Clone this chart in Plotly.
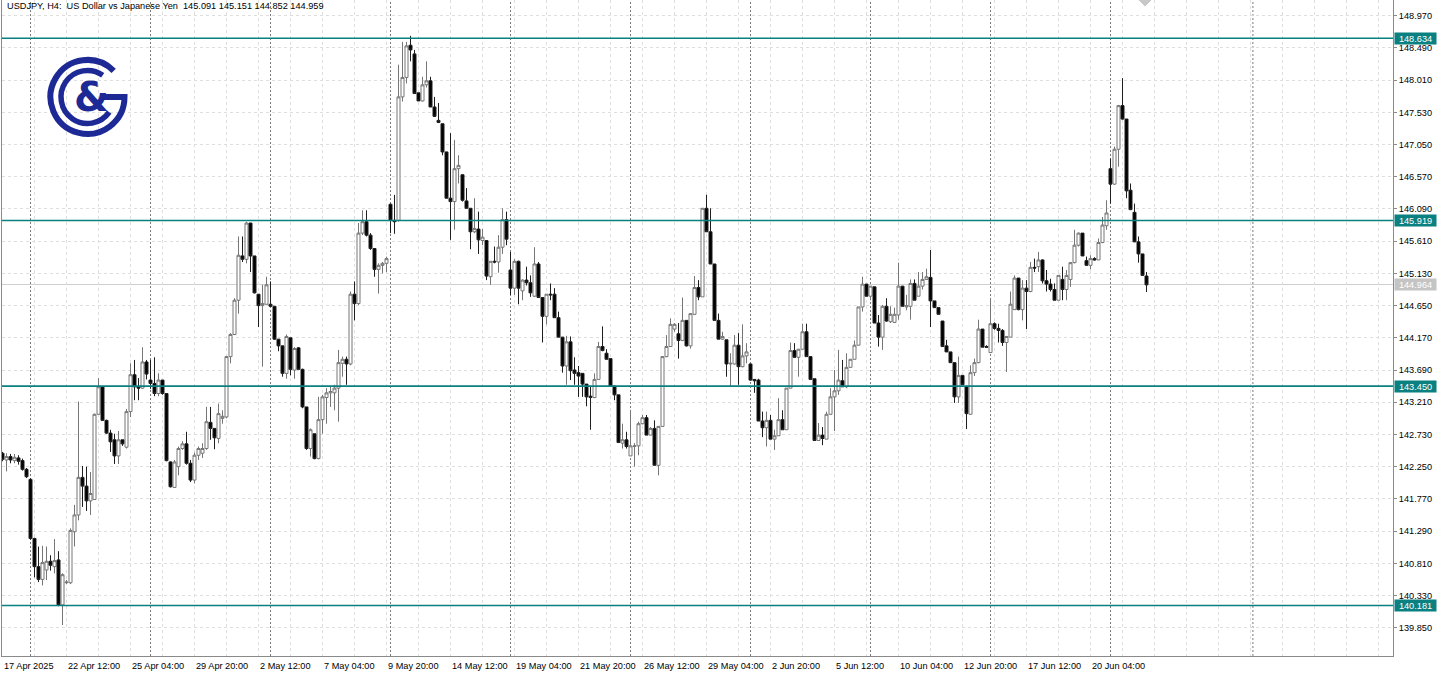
import base64
import plotly.graph_objects as go

# ---------------- data (USDJPY H4) ----------------
opens = [142.45,142.35,142.40,142.34,142.38,142.34,142.21,142.06,141.18,140.76,
140.57,140.71,140.84,140.76,140.86,140.19,140.52,140.52,141.28,141.53,
142.09,141.96,141.74,141.76,143.03,143.44,142.94,142.75,142.65,142.41,
142.65,142.54,143.07,143.62,143.44,143.42,143.81,143.54,143.49,143.34,
143.54,143.34,142.32,141.94,142.25,142.52,142.59,142.30,142.05,142.42,
142.45,142.52,142.91,142.82,142.67,142.97,142.99,143.89,144.22,144.73,
145.39,145.34,145.88,145.39,144.82,144.65,144.67,144.67,144.64,144.15,
144.05,143.64,144.17,143.69,144.02,143.70,143.14,142.52,142.74,142.37,
142.95,143.28,143.35,143.35,143.42,143.79,143.85,143.78,144.82,144.68,
145.73,145.90,145.70,145.50,145.19,145.25,145.28,146.16,145.92,145.92,
147.76,148.05,148.53,148.40,147.82,147.70,147.94,148.00,147.61,147.41,
147.36,146.94,146.25,146.20,146.69,146.60,146.21,146.10,145.75,145.79,
145.62,145.62,145.08,145.31,145.30,145.52,145.93,145.18,144.91,145.31,
144.87,145.03,144.99,144.79,145.27,144.77,144.49,144.82,144.82,144.47,
144.18,143.75,144.11,143.69,143.65,143.64,143.48,143.30,143.28,143.55,
144.04,143.94,143.86,143.45,143.32,142.60,142.65,142.41,142.55,142.56,
142.89,142.98,142.72,142.82,142.27,142.85,143.89,144.04,144.30,144.23,
144.13,144.43,144.05,144.52,144.92,144.78,146.10,145.75,145.27,144.43,
144.15,144.14,143.78,143.78,144.06,143.74,143.90,143.78,143.55,143.54,
142.93,142.83,142.94,142.66,142.71,142.95,142.80,143.42,143.98,143.88,
144.00,144.26,143.89,143.56,142.64,142.72,142.66,143.03,143.29,143.38,
143.53,143.44,143.73,143.85,144.06,144.63,144.97,144.79,144.93,144.39,
144.18,144.64,144.41,144.40,144.51,144.94,144.63,144.64,144.98,144.79,
144.94,145.04,145.07,144.72,144.62,144.42,144.05,143.96,143.80,143.29,
143.61,143.44,143.03,143.65,143.80,144.30,144.04,143.95,144.38,144.31,
144.28,144.10,144.18,144.59,145.06,144.59,144.91,144.86,145.22,145.23,
145.33,145.02,144.97,144.89,144.73,145.04,144.89,145.04,145.29,145.55,
145.73,145.32,145.25,145.35,145.33,145.59,145.84,146.69,146.46,146.98,
147.63,147.43,146.37,146.04,145.60,145.42,145.091]

highs = [142.47,142.45,142.44,142.44,142.42,142.37,142.23,142.08,141.19,141.06,
141.07,141.06,140.93,141.17,140.99,140.66,140.56,141.33,141.68,143.22,
142.26,142.25,142.17,143.04,143.57,143.45,142.95,142.80,142.74,142.78,
142.65,143.11,143.79,143.84,143.57,144.03,143.84,143.84,143.88,143.64,
143.54,143.34,142.33,142.35,142.55,142.63,142.77,142.35,142.46,142.55,
142.60,143.14,143.14,142.82,143.19,143.09,143.90,144.24,144.76,145.68,
145.68,145.90,145.88,145.39,144.82,144.96,145.08,145.01,144.64,144.15,
144.05,144.22,144.17,144.03,144.03,143.71,143.14,142.82,142.74,143.29,
143.32,143.42,143.44,143.47,143.99,143.89,143.89,144.86,145.01,145.88,
146.07,146.07,145.73,145.50,145.28,145.30,145.38,146.17,146.30,148.24,
148.58,148.58,148.67,148.46,147.82,148.06,148.29,148.06,147.76,147.67,
147.36,146.94,147.22,147.12,146.89,146.60,146.40,146.10,146.25,146.05,
145.79,145.62,145.31,145.53,145.70,146.10,146.05,145.45,145.34,145.32,
145.04,145.23,145.10,145.52,145.30,144.77,144.82,144.98,144.91,144.56,
144.18,144.20,144.19,143.88,143.75,143.64,143.48,143.44,143.64,144.11,
144.34,144.00,143.86,143.46,143.32,142.89,142.77,143.09,142.60,142.92,
143.02,143.02,142.84,142.94,142.85,143.89,144.21,144.46,144.39,144.39,
144.77,144.43,144.53,145.09,145.03,146.10,146.30,146.10,145.27,144.53,
144.26,144.14,143.94,144.21,144.24,144.37,144.09,143.78,143.55,143.56,
143.07,143.07,143.02,142.80,143.27,143.09,143.42,144.10,144.09,144.00,
144.38,144.38,143.89,143.56,142.90,142.84,143.07,143.42,143.69,143.99,
143.84,143.94,143.85,144.13,144.63,145.08,144.97,144.94,144.93,144.51,
144.66,144.76,144.64,144.62,145.29,144.94,144.81,145.04,145.04,145.15,
145.15,145.20,145.48,144.72,144.62,144.42,144.14,143.96,143.80,143.89,
143.61,143.46,143.76,143.86,144.44,144.30,144.06,144.76,144.40,144.38,
144.30,144.19,144.86,145.10,145.06,145.03,145.03,145.30,145.35,145.45,
145.34,145.18,145.05,144.98,145.10,145.23,145.18,145.29,145.78,145.74,
145.73,145.38,145.40,145.37,145.65,145.97,146.22,146.84,147.02,147.64,
148.04,147.43,146.47,146.17,145.68,145.42,145.151]

lows = [142.33,142.18,142.30,142.30,142.28,142.19,142.08,141.16,140.60,140.53,
140.48,140.56,140.70,140.66,140.17,139.89,140.50,140.50,141.06,141.45,
141.65,141.59,141.53,141.76,143.03,142.93,142.74,142.47,142.29,142.29,
142.56,142.52,142.99,143.24,143.24,143.41,143.55,143.41,143.30,143.30,
143.32,142.33,141.94,141.94,142.12,142.50,142.28,142.02,142.00,142.35,
142.38,142.50,142.65,142.51,142.60,142.89,142.97,143.79,144.21,144.53,
145.30,145.28,145.15,144.83,144.33,143.74,144.67,144.63,144.14,143.97,
143.59,143.56,143.61,143.56,143.69,143.12,142.50,142.40,142.36,142.36,
142.74,142.89,143.14,143.09,142.92,143.59,143.47,143.76,144.43,144.66,
145.70,145.68,145.48,145.08,144.83,145.13,145.15,145.73,145.72,145.90,
147.69,147.96,148.29,147.81,147.70,147.69,147.90,147.61,147.46,147.37,
146.89,146.25,145.63,145.78,146.47,146.20,146.10,145.49,145.73,145.42,
145.55,145.03,144.96,145.28,145.14,145.42,145.55,144.81,144.81,144.67,
144.73,144.95,144.78,144.78,144.77,144.10,144.37,144.73,144.47,144.18,
143.65,143.47,143.54,143.47,143.29,143.29,143.15,142.80,143.27,143.55,
143.97,143.85,143.45,143.24,142.61,142.52,142.52,142.41,142.25,142.42,
142.88,142.72,142.72,142.27,142.12,142.85,143.88,144.04,144.26,143.86,
144.12,144.04,144.01,144.51,144.73,144.78,145.75,145.27,144.43,144.15,
144.14,143.59,143.44,143.77,143.47,143.73,143.79,143.53,143.35,142.93,
142.69,142.55,142.66,142.50,142.71,142.80,142.80,143.42,143.87,143.59,
144.00,143.89,143.55,142.64,142.64,142.57,142.66,143.03,142.78,143.32,
143.44,143.42,143.73,143.85,144.06,144.56,144.79,144.73,144.39,144.04,
143.99,144.41,144.39,144.39,144.44,144.64,144.58,144.44,144.73,144.79,
144.89,145.04,144.33,144.62,144.52,144.04,143.96,143.80,143.20,143.20,
143.47,142.81,143.03,143.60,143.79,144.03,144.03,143.95,144.29,144.10,
144.05,143.66,144.18,144.59,144.58,144.43,144.30,144.85,145.15,145.15,
144.98,144.86,144.86,144.73,144.73,144.73,144.73,144.93,145.28,145.53,
145.39,145.25,145.19,145.32,145.33,145.58,145.78,146.17,146.45,146.72,
147.42,146.25,146.08,145.60,145.29,145.10,144.852]

closes = [142.36,142.40,142.35,142.39,142.33,142.21,142.10,141.18,140.76,140.57,
140.82,140.84,140.78,140.85,140.19,140.64,140.53,141.30,141.53,142.09,
141.96,141.74,141.85,143.03,143.44,142.94,142.75,142.62,142.41,142.65,
142.59,143.07,143.62,143.44,143.42,143.81,143.63,143.49,143.34,143.54,
143.34,142.34,141.95,142.32,142.52,142.59,142.30,142.05,142.42,142.52,
142.52,142.92,142.82,142.68,143.04,143.00,143.89,144.22,144.73,145.40,
145.34,145.88,145.39,144.84,144.65,144.68,144.96,144.64,144.15,144.05,
143.64,144.19,143.70,144.01,143.70,143.14,142.52,142.80,142.37,142.95,
143.29,143.35,143.37,143.42,143.80,143.85,143.78,144.82,144.68,145.73,
145.90,145.70,145.50,145.19,145.25,145.28,145.35,145.92,145.90,147.76,
148.05,148.52,148.46,147.81,147.70,147.94,148.00,147.61,147.47,147.38,
146.94,146.25,146.20,146.69,146.74,146.22,146.10,145.75,145.80,145.63,
145.67,145.09,145.31,145.30,145.52,145.93,145.64,144.91,145.31,144.91,
145.03,144.99,144.84,145.27,144.77,144.49,144.82,144.81,144.47,144.18,
143.75,144.11,143.68,143.64,143.60,143.48,143.29,143.28,143.55,144.04,
143.98,143.85,143.45,143.32,142.61,142.65,142.55,142.56,142.56,142.89,
142.98,142.72,142.82,142.27,142.85,143.89,144.04,144.37,144.37,144.13,
144.43,144.05,144.53,144.92,144.78,146.10,145.75,145.27,144.43,144.15,
144.19,143.78,143.79,144.06,143.74,143.90,143.96,143.54,143.53,142.93,
142.83,142.94,142.66,142.71,142.95,142.80,143.42,143.98,143.88,144.00,
144.26,143.89,143.55,142.64,142.72,142.67,143.03,143.29,143.38,143.54,
143.44,143.73,143.85,144.06,144.63,144.97,144.79,144.94,144.39,144.18,
144.64,144.42,144.52,144.52,144.94,144.64,144.65,144.98,144.73,144.94,
145.04,145.08,144.72,144.62,144.52,144.04,143.96,143.80,143.29,143.61,
143.47,143.04,143.65,143.80,144.30,144.03,144.03,144.38,144.31,144.28,
144.10,144.19,144.67,145.06,144.59,144.91,144.86,145.22,145.21,145.33,
145.02,144.97,144.89,144.73,145.10,144.89,145.10,145.29,145.55,145.73,
145.39,145.25,145.35,145.33,145.59,145.85,146.03,146.46,146.98,147.63,
147.43,146.36,146.08,145.60,145.42,145.10,144.959]

time_labels = ["17 Apr 2025", "22 Apr 12:00", "25 Apr 04:00", "29 Apr 20:00",
               "2 May 12:00", "7 May 04:00", "9 May 20:00", "14 May 12:00",
               "19 May 04:00", "21 May 20:00", "26 May 12:00", "29 May 04:00",
               "2 Jun 20:00", "5 Jun 12:00", "10 Jun 04:00", "12 Jun 20:00",
               "17 Jun 12:00", "20 Jun 04:00"]
BARS_PER_LABEL = 16
level_prices = [148.634, 145.919, 143.450, 140.181]
last_price = 144.964
header = "USDJPY, H4:  US Dollar vs Japanese Yen  145.091 145.151 144.852 144.959"
FIRST_MONDAY = 7
BARS_PER_WEEK = 30

# ---------------- layout constants ----------------
W, H = 1441, 675
L, R, T, B = 2, 48, 0, 19
plot_w = W - L - R
plot_h = H - T - B
PX_PER_BAR = 4.0
x_lo = -0.125
x_hi = x_lo + plot_w / PX_PER_BAR
y_top = 149.204
y_bot = y_top - plot_h / 67.105

TEAL = "#0a8080"
GRID = "#dedede"
AXIS = "#8a8a8a"
FONT = "Liberation Sans"
BLUE = "#1d2a96"

n = len(closes)
xs = list(range(n))

fig = go.Figure()
fig.add_trace(go.Candlestick(
    x=xs, open=opens, high=highs, low=lows, close=closes,
    increasing=dict(line=dict(color="#767676", width=1), fillcolor="#ffffff"),
    decreasing=dict(line=dict(color="#1e1e1e", width=1), fillcolor="#000000"),
    whiskerwidth=0, showlegend=False, hoverinfo="skip",
))

shapes = []
# weekly period separators
for ws in range(FIRST_MONDAY, n, BARS_PER_WEEK):
    shapes.append(dict(type="line", xref="x", yref="paper", x0=ws, x1=ws, y0=0, y1=1,
                       line=dict(color="#7a7a7a", width=1, dash="2px,2px"), layer="below"))
shapes.append(dict(type="line", xref="x", yref="paper", x0=312.6, x1=312.6, y0=0, y1=1,
                   line=dict(color="#7a7a7a", width=1, dash="2px,2px"), layer="below"))
# last price line
shapes.append(dict(type="line", xref="paper", yref="y", x0=0, x1=1, y0=last_price, y1=last_price,
                   line=dict(color="#d0d0d0", width=1), layer="below"))
# horizontal levels
for p in level_prices:
    shapes.append(dict(type="line", xref="paper", yref="y", x0=0, x1=1, y0=p, y1=p,
                       line=dict(color=TEAL, width=1.6), layer="above"))
# chart-shift marker at top
sx = (1145 - L) / plot_w
shapes.append(dict(type="path", xref="paper", yref="paper",
                   path=f"M {sx-6/plot_w},1 L {sx+6/plot_w},1 L {sx},{1-6/plot_h} Z",
                   fillcolor="#c8c8c8", line=dict(color="#c8c8c8", width=1), layer="above"))

annotations = []
annotations.append(dict(text=header.replace("  ", " \u00a0"), xref="paper", yref="paper",
                        x=0, y=1, xanchor="left", yanchor="top", xshift=3, yshift=1,
                        showarrow=False, font=dict(family=FONT, size=9.2, color="#000000")))
for k, lab in enumerate(time_labels):
    annotations.append(dict(text=lab, xref="x", yref="paper", x=k * BARS_PER_LABEL, y=0,
                            xanchor="left", yanchor="top", xshift=-1, yshift=-3,
                            showarrow=False, font=dict(family=FONT, size=9.2, color="#000000")))
for p in level_prices:
    annotations.append(dict(text=f"{p:.3f}", xref="paper", yref="y", x=1, y=p,
                            xanchor="left", yanchor="middle", xshift=1, showarrow=False,
                            bgcolor=TEAL, borderpad=0, width=41, height=11, align="center",
                            font=dict(family=FONT, size=9.2, color="#ffffff")))
annotations.append(dict(text=f"{last_price:.3f}", xref="paper", yref="y", x=1, y=last_price,
                        xanchor="left", yanchor="middle", xshift=1, showarrow=False,
                        bgcolor="#c4c4c4", borderpad=0, width=41, height=11, align="center",
                        font=dict(family=FONT, size=9.2, color="#ffffff")))
# logo ampersand
annotations.append(dict(text="&", xref="paper", yref="paper",
                        x=(91 - L) / plot_w, y=1 - (97 - T) / plot_h,
                        xanchor="center", yanchor="middle", showarrow=False,
                        font=dict(family="DejaVu Sans", size=40, color=BLUE, weight="bold")))

svg = ('<svg xmlns="http://www.w3.org/2000/svg" width="85" height="85" viewBox="0 0 85 85">'
       f'<g fill="none" stroke="{BLUE}">'
       '<path stroke-width="6" d="M68.7,15.8 A37,37 0 1 0 79.5,42 L55.5,42"/>'
       '<path stroke-width="5.5" d="M57.7,20.3 A26.5,26.5 0 1 0 64.2,57.2"/>'
       '</g></svg>')
logo_src = "data:image/svg+xml;base64," + base64.b64encode(svg.encode()).decode()

fig.update_layout(
    width=W, height=H, margin=dict(l=L, r=R, t=T, b=B, pad=0),
    paper_bgcolor="#ffffff", plot_bgcolor="#ffffff",
    showlegend=False, boxgap=0.25, boxgroupgap=0,
    shapes=shapes, annotations=annotations,
    images=[dict(source=logo_src, xref="paper", yref="paper",
                 x=(45 - L) / plot_w, y=1 - (55 - T) / plot_h,
                 sizex=85 / plot_w, sizey=85 / plot_h,
                 xanchor="left", yanchor="top", sizing="stretch", layer="above")],
    xaxis=dict(range=[x_lo, x_hi], tickvals=list(range(0, int(x_hi) + 1, 8)),
               showticklabels=False, ticks="", showgrid=True, gridcolor=GRID,
               griddash="3px,3px", gridwidth=1, showline=True, linecolor=AXIS,
               linewidth=1, zeroline=False, rangeslider=dict(visible=False), fixedrange=True),
    yaxis=dict(side="right", range=[y_bot, y_top], tick0=139.85, dtick=0.48,
               tickformat=".3f", ticks="outside", ticklen=3, tickcolor=AXIS,
               showgrid=True, gridcolor=GRID, griddash="3px,3px", gridwidth=1,
               showline=True, mirror=True, linecolor=AXIS, linewidth=1, zeroline=False,
               tickfont=dict(family=FONT, size=9.2, color="#000000"), fixedrange=True),
)

fig.write_html("out.html", config={"displayModeBar": False},
               post_script="document.body.style.margin='0';document.body.style.overflow='hidden';")
